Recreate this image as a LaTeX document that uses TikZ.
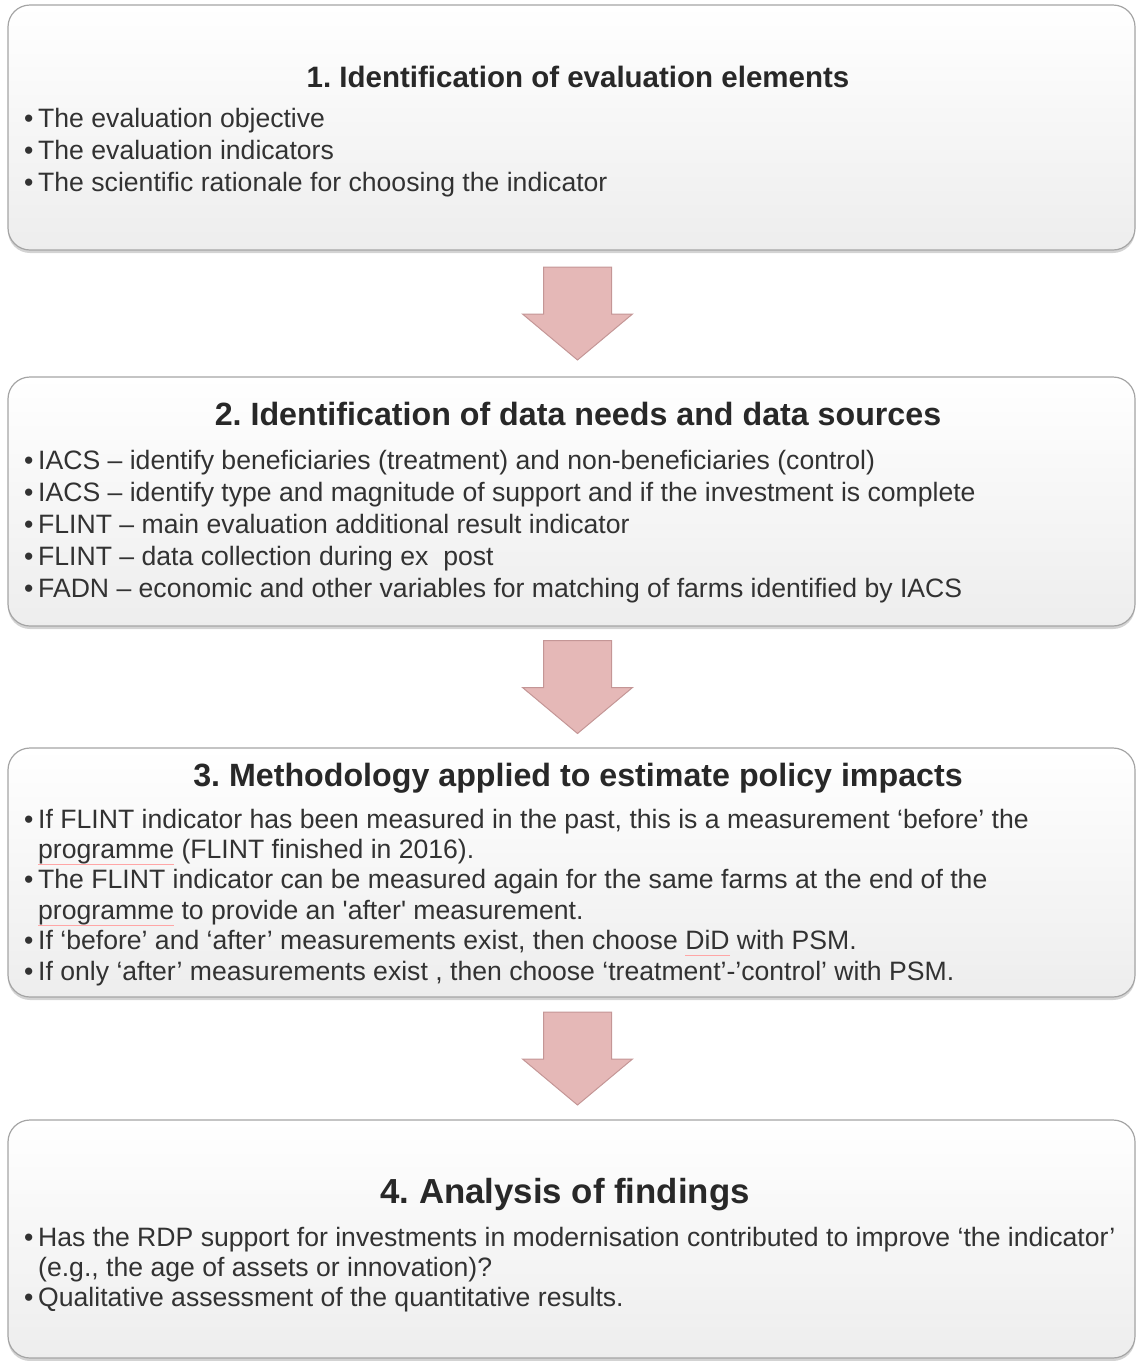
\documentclass[tikz,border=0pt]{standalone}
\usepackage{fontspec}
\setmainfont{Liberation Sans}
\usetikzlibrary{calc,shadows}
\definecolor{txtgray}{RGB}{50,50,50}
\definecolor{arrowfill}{RGB}{229,184,183}
\definecolor{arrowline}{RGB}{196,150,150}
\definecolor{boxline}{RGB}{165,165,165}
\newsavebox{\spellbox}
\newcommand{\bul}{\strut\makebox[14pt][l]{•}}
\newcommand{\cont}{\strut\hspace*{14pt}}
\newcommand{\spellmark}[1]{\sbox{\spellbox}{#1}\rlap{\color{red!35}\rule[-6pt]{\wd\spellbox}{0.6pt}}#1}
\frenchspacing
\tikzset{
  stagebox/.style={draw=boxline, line width=1.2pt, rounded corners=22pt,
    top color=white, bottom color=gray!14, inner sep=0pt, minimum width=1127pt,
    drop shadow={shadow xshift=0pt, shadow yshift=-3pt, opacity=.35, fill=gray}},
  stagetitle/.style={anchor=base, inner sep=0pt, text=txtgray!80!black,
    font=\bfseries\fontsize{#1}{34}\selectfont},
  stagetitle/.default=29,
  stagebody/.style={anchor=north west, inner sep=0pt, align=left, text=txtgray},
  flowarrow/.style={fill=arrowfill, draw=arrowline, line width=1pt, line join=miter}
}
\begin{document}
\begin{tikzpicture}[x=1pt,y=-1pt]
  \useasboundingbox (0,0) rectangle (1137,1361);
  % the four stages
  \node[stagebox, minimum height=245pt] (s1) at (571.5,127.5) {};
  \node[stagebox, minimum height=249pt] (s2) at (571.5,501.5) {};
  \node[stagebox, minimum height=249pt] (s3) at (571.5,872.5) {};
  \node[stagebox, minimum height=238pt] (s4) at (571.5,1239) {};
  % block arrows between the stages
  \foreach \a/\b [count=\i] in {s1/s2,s2/s3,s3/s4} {
    \coordinate (a\i) at ($(\a.south)!.5!(\b.north)+(6,0)$);
    \draw[flowarrow, shift={(a\i)}] (-34,-46.5) -- (34,-46.5) -- (34,.5) -- (55,.5)
      -- (0,46.5) -- (-55,.5) -- (-34,.5) -- cycle;
  }
  % stage 1
  \node[stagetitle=29.5] (t1) at (578,87) {1. Identification of evaluation elements};
  \node[stagebody, font=\fontsize{26.6}{32}\selectfont] (b1) at (24,104.6)
    {\bul The evaluation objective\\
     \bul The evaluation indicators\\
     \bul The scientific rationale for choosing the indicator};
  % stage 2
  \node[stagetitle=32.2] (t2) at (578,425) {2. Identification of data needs and data sources};
  \node[stagebody, font=\fontsize{26.6}{32}\selectfont] (b2) at (24,446.6)
    {\bul IACS – identify beneficiaries (treatment) and non-beneficiaries (control)\\
     \bul IACS – identify type and magnitude of support and if the investment is complete\\
     \bul FLINT – main evaluation additional result indicator\\
     \bul FLINT – data collection during ex~~post\\
     \bul FADN – economic and other variables for matching of farms identified by IACS};
  % stage 3
  \node[stagetitle=32.2] (t3) at (578,786) {3. Methodology applied to estimate policy impacts};
  \node[stagebody, font=\fontsize{26.6}{30.4}\selectfont] (b3) at (24,806.7)
    {\bul If FLINT indicator has been measured in the past, this is a measurement ‘before’ the\\
     \cont \spellmark{programme} (FLINT finished in 2016).\\
     \bul The FLINT indicator can be measured again for the same farms at the end of the\\
     \cont \spellmark{programme} to provide an \textquotesingle after\textquotesingle{} measurement.\\
     \bul If ‘before’ and ‘after’ measurements exist, then choose \spellmark{DiD} with PSM.\\
     \bul If only ‘after’ measurements exist , then choose ‘treatment’-’control’ with PSM.};
  % stage 4
  \node[stagetitle=34.8] (t4) at (565,1203) {4. Analysis of findings};
  \node[stagebody, font=\fontsize{26.6}{30}\selectfont] (b4) at (24,1225)
    {\bul Has the RDP support for investments in modernisation contributed to improve ‘the indicator’\\
     \cont (e.g., the age of assets or innovation)?\\
     \bul Qualitative assessment of the quantitative results.};
\end{tikzpicture}
\end{document}
